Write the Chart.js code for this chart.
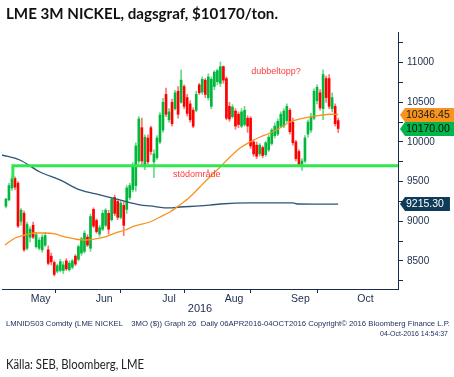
<!DOCTYPE html>
<html><head><meta charset="utf-8">
<script src="https://cdn.jsdelivr.net/npm/chart.js@4.4.0/dist/chart.umd.min.js"></script>
<style>
html,body{margin:0;padding:0;background:#fff;}
#wrap{position:relative;width:454px;height:377px;overflow:hidden;background:#fff;}
canvas{position:absolute;left:0;top:0;}
.t{position:absolute;white-space:pre;transform-origin:0 0;line-height:1;}
#title{left:6px;top:4px;font:bold 15.5px Lato;color:#111;}
#f1{left:6px;top:319px;font:8px "Liberation Sans";color:#1a2a5a;}
#f2{top:329px;font:8px "Liberation Sans";color:#1a2a5a;}
#src{left:6px;top:356px;font:13.5px Lato;color:#222;}
</style></head>
<body><div id="wrap">
<canvas id="c" width="454" height="377"></canvas>
<div id="title" class="t" data-w="272">LME 3M NICKEL, dagsgraf, $10170/ton.</div>
<div id="f1" class="t" data-w="444">LMNIDS03 Comdty (LME NICKEL    3MO ($)) Graph 26  Daily 06APR2016-04OCT2016 Copyright© 2016 Bloomberg Finance L.P.</div>
<div id="f2" class="t" data-w="68" data-r="448">04-Oct-2016 14:54:37</div>
<div id="src" class="t" data-w="138">Källa: SEB, Bloomberg, LME</div>
</div>
<script>
// ---- data (trading-day index 0 = 28 Apr 2016 ... 110 = 4 Oct 2016) ----
const OPEN  = [9190,9270,9420,9540,9480,9000,9100,8660,8800,8950,8680,8660,8640,8700,8640,8560,8480,8370,8380,8380,8500,8390,8420,8560,8520,8600,8620,8800,8660,9150,9010,8840,8900,8950,9100,9020,9300,9250,9050,9200,9150,9300,9400,9450,9760,10180,9700,10050,10180,9750,9800,10000,10150,10600,10280,10500,10420,10640,10500,10700,10560,10480,10400,10400,10720,10630,10780,10560,10450,10700,10760,10740,10950,10800,10450,10320,10390,10350,10200,10220,10300,10300,10000,9960,9850,9930,9840,9900,9980,10080,10100,10200,10200,10270,10400,10250,10000,9880,9720,9760,10100,10150,10300,10520,10620,10420,10800,10800,10420,10450,10270];
const HIGH  = [9290,9480,9560,9560,9500,9160,9130,8990,8930,8990,8860,8790,8830,8860,8690,8600,8500,8460,8520,8490,8530,8500,8520,8580,8700,8800,8880,8830,9090,9170,9030,8950,9140,9160,9140,9300,9330,9280,9260,9250,9450,9480,9740,9990,10320,10300,10090,10090,10200,9900,10080,10370,10550,10680,10420,10540,10650,10700,10910,10720,10600,10520,10430,10640,10740,10820,10800,10860,10820,10900,10920,11010,10960,10820,10500,10470,10420,10380,10420,10450,10330,10320,10030,10000,9980,9950,10010,10090,10170,10240,10290,10380,10420,10480,10420,10300,10020,9900,9790,10080,10280,10360,10670,10720,10660,10910,10830,10850,10620,10480,10300];
const LOW   = [9170,9260,9390,9400,8920,8950,8620,8640,8740,8780,8660,8640,8610,8680,8450,8450,8310,8350,8360,8340,8380,8370,8400,8440,8500,8570,8600,8680,8620,8920,8850,8810,8880,8930,8840,9000,9070,9020,9030,8820,9100,9270,9370,9380,9730,9710,9650,9720,9840,9550,9780,9980,10120,10320,10250,10200,10400,10300,10490,10420,10330,10250,10180,10380,10600,10600,10560,10530,10420,10660,10720,10700,10740,10280,10260,10300,10160,10180,10180,10200,10120,9920,9820,9790,9820,9800,9820,9880,9960,10050,10080,10180,10180,10250,10100,9960,9760,9690,9640,9740,10060,10120,10280,10480,10400,10280,10500,10420,10380,10200,10120];
const CLOSE = [9280,9450,9540,9430,8940,9140,8640,8960,8900,8800,8830,8760,8800,8820,8470,8490,8330,8440,8490,8450,8400,8470,8500,8460,8680,8780,8850,8700,9060,8940,8870,8920,9100,9140,8900,9280,9100,9050,9230,8950,9420,9450,9700,9950,10290,9760,10060,9750,9880,9850,10050,10340,10500,10350,10380,10230,10620,10350,10780,10450,10360,10280,10200,10600,10620,10790,10600,10820,10790,10880,10900,10950,10780,10300,10290,10440,10200,10220,10380,10400,10200,9950,9850,9820,9960,9830,9990,10060,10150,10200,10260,10350,10390,10450,10130,9990,9790,9720,9760,10050,10250,10320,10640,10690,10430,10850,10560,10450,10560,10230,10170];

// moving averages (day index, value)
const MA_SHORT_X = [-0.3,3,6.3,9.6,12.9,16.2,19.5,22.8,26.2,29.5,32.8,36.1,39.4,42.7,47.7,51,54.3,57.6,60.9,64.2,67.5,70.9,74.2,77.5,80.8,84.1,87.4,90.7,94,97.4,100.7,104,107.3,110];
const MA_SHORT_Y = [8701,8789,8827,8852,8852,8840,8802,8777,8764,8777,8802,8852,8890,8941,8991,9054,9117,9206,9306,9433,9559,9685,9811,9924,10000,10063,10113,10177,10252,10290,10315,10335,10350,10346.45];
const MA_LONG_X = [-1.3,4.6,11.3,17.9,24.5,31.1,37.7,44.4,47.7,54.3,57.6,64.2,70.9,80.8,95,96.4,110];
const MA_LONG_Y = [9836,9773,9622,9521,9395,9332,9269,9206,9193,9168,9180,9193,9218,9231,9231,9218,9215.30];

// support line (annotation)
const SUPPORT_X = [2.3,2.3,131];
const SUPPORT_Y = [9530,9700,9700];

// annotation texts
const ANN_TEXT = ['dubbeltopp?','stödområde'];
const ANN_X = [89.4,63.2];
const ANN_Y = [10883,9584];

// last-value tags
const TAG_TEXT = ['10346.45','10170.00','9215.30'];
const TAG_VALUE = [10346.45,10170.00,9215.30];

// axis ticks
const MONTHS = ['May','Jun','Jul','Aug','Sep','Oct'];
const MONTH_START = [1.5,21.5,43.5,64.5,86.5,108.5];
const MONTH_MID = [11.5,32.5,54,75.5,97.5,119];
const Y_TICKS = [8250,8500,8750,9000,9250,9500,9750,10000,10250,10500,10750,11000,11250];

// ---- styles ----
const NAVY = '#1b2b4b';
const UP = '#00b83c', UP_W = '#66d98a', DN = '#ff0000', DN_W = '#ff7373';
const TAG_BG = ['#f7941d','#00b64a','#0d3b58'];
const TAG_FG = ['#1a1a1a','#0a0a0a','#ffffff'];

const idx = OPEN.map((_, i) => i);
const up = idx.map(i => CLOSE[i] >= OPEN[i]);

const overlay = {
  id: 'overlay',
  afterDatasetsDraw(chart) {
    const {ctx, scales: {x, y}} = chart;
    ctx.save();
    ctx.font = '9px "Liberation Sans"';
    ctx.fillStyle = '#ff3b3b';
    ctx.textAlign = 'center';
    ctx.textBaseline = 'middle';
    ANN_TEXT.forEach((t, i) => ctx.fillText(t, x.getPixelForValue(ANN_X[i]), y.getPixelForValue(ANN_Y[i])));
    ctx.restore();
  },
  afterDraw(chart) {
    const {ctx, chartArea, scales: {y}} = chart;
    ctx.save();
    ctx.font = '10.5px "Liberation Sans"';
    ctx.textBaseline = 'middle';
    ctx.textAlign = 'left';
    TAG_VALUE.forEach((v, i) => {
      const py = Math.round(y.getPixelForValue(v));
      const x0 = chartArea.right + 2;
      const w = ctx.measureText(TAG_TEXT[i]).width + 10;
      ctx.beginPath();
      ctx.moveTo(x0, py);
      ctx.lineTo(x0 + 5, py - 7);
      ctx.lineTo(x0 + w + 2, py - 7);
      ctx.lineTo(x0 + w + 2, py + 7);
      ctx.lineTo(x0 + 5, py + 7);
      ctx.closePath();
      ctx.fillStyle = TAG_BG[i];
      ctx.fill();
      ctx.fillStyle = TAG_FG[i];
      ctx.fillText(TAG_TEXT[i], x0 + 6, py + 0.5);
    });
    ctx.restore();
  }
};

new Chart(document.getElementById('c'), {
  type: 'bar',
  data: {
    datasets: [
      { label: 'wick', data: idx.map(i => ({x: i, y: [LOW[i], HIGH[i]]})),
        backgroundColor: idx.map(i => up[i] ? UP_W : DN_W), barThickness: 1, grouped: false, order: 6 },
      { label: 'body', data: idx.map(i => ({x: i, y: [OPEN[i], CLOSE[i]]})),
        backgroundColor: idx.map(i => up[i] ? UP : DN), barThickness: 2, grouped: false, order: 5, minBarLength: 1 },
      { type: 'line', label: 'MA long', data: MA_LONG_X.map((v, i) => ({x: v, y: MA_LONG_Y[i]})),
        borderColor: '#2d5575', borderWidth: 1.3, pointRadius: 0, cubicInterpolationMode: 'monotone', order: 3 },
      { type: 'line', label: 'MA short', data: MA_SHORT_X.map((v, i) => ({x: v, y: MA_SHORT_Y[i]})),
        borderColor: '#f7941d', borderWidth: 1.3, pointRadius: 0, cubicInterpolationMode: 'monotone', order: 2 },
      { type: 'line', label: 'stöd', data: SUPPORT_X.map((v, i) => ({x: v, y: SUPPORT_Y[i]})),
        borderColor: '#2ee84e', borderWidth: 3, pointRadius: 0, tension: 0, order: 1 }
    ]
  },
  options: {
    responsive: false,
    animation: false,
    events: [],
    layout: { padding: { left: 2, top: 32, right: 0, bottom: 0 } },
    plugins: { legend: { display: false }, tooltip: { enabled: false } },
    scales: {
      x: {
        type: 'linear', min: -1.3, max: 129.8, offset: false,
        afterBuildTicks: s => { s.ticks = [...MONTH_START, ...MONTH_MID].sort((a, b) => a - b).map(v => ({value: v})); },
        afterFit: s => { s.height = 88; },
        ticks: {
          autoSkip: false, maxRotation: 0, padding: 0, color: NAVY,
          font: { family: 'Liberation Sans', size: 10.5 },
          callback: v => { const k = MONTH_MID.indexOf(v); return k >= 0 ? MONTHS[k] : ''; }
        },
        grid: { drawOnChartArea: false, tickLength: 4,
          tickColor: ctx => (ctx.tick && MONTH_START.includes(ctx.tick.value)) ? NAVY : 'rgba(0,0,0,0)' },
        border: { display: true, color: NAVY },
        title: { display: true, text: '2016', color: NAVY, font: { family: 'Liberation Sans', size: 11 }, padding: { top: 0, bottom: 61 } }
      },
      y: {
        type: 'linear', position: 'right', min: 8146, max: 11387,
        afterBuildTicks: s => { s.ticks = Y_TICKS.map(v => ({value: v})); },
        afterFit: s => { s.width = 56; },
        ticks: { color: NAVY, padding: 4, font: { family: 'Liberation Sans', size: 10 },
          callback: v => (v % 500 === 0 ? String(v) : '') },
        grid: { drawOnChartArea: false, tickLength: 5, tickColor: NAVY },
        border: { display: true, color: NAVY }
      }
    }
  },
  plugins: [overlay]
});

document.querySelectorAll('[data-w]').forEach(el => {
  const w = el.getBoundingClientRect().width;
  el.style.transform = 'scaleX(' + (+el.dataset.w / w) + ')';
  if (el.dataset.r) el.style.left = (+el.dataset.r - +el.dataset.w) + 'px';
});
</script>
</body></html>
